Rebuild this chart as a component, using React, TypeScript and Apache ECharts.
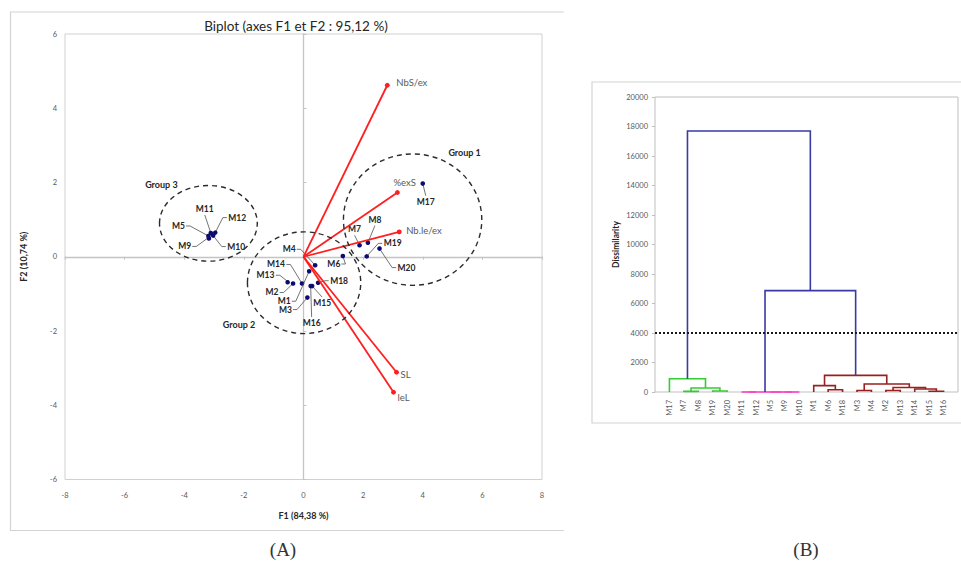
import React, { useEffect, useRef } from "react";
import * as echarts from "echarts";

// ---------------- Panel A : biplot data ----------------
const obsNames = ["M17", "M7", "M8", "M19", "M20", "M6", "M13", "M2", "M14", "M1", "M3", "M15", "M16", "M18", "M4", "M5", "M9", "M10", "M11", "M12"];
const obsF1 = [4.0, 1.88, 2.16, 2.12, 2.55, 1.32, -0.54, -0.35, -0.05, 0.19, 0.13, 0.29, 0.24, 0.49, 0.39, -3.19, -3.18, -3.03, -3.11, -2.96];
const obsF2 = [1.97, 0.31, 0.38, 0.01, 0.22, 0.02, -0.66, -0.72, -0.72, -0.39, -1.1, -0.79, -0.79, -0.7, -0.23, 0.56, 0.52, 0.57, 0.64, 0.65];

const varNames = ["NbS/ex", "%exS", "Nb.le/ex", "SL", "leL"];
const varF1 = [2.81, 3.15, 3.21, 3.12, 3.02];
const varF2 = [4.62, 1.73, 0.67, -3.11, -3.65];

const xTicksA = { min: -8, max: 8, step: 2 };
const yTicksA = { min: -6, max: 6, step: 2 };

// ---------------- Panel B : dendrogram data ----------------
const leafOrder = ["M17", "M7", "M8", "M19", "M20", "M11", "M12", "M5", "M9", "M10", "M1", "M6", "M18", "M3", "M4", "M2", "M13", "M14", "M15", "M16"];
// merges: [child A, child B, dissimilarity]; "#k" = result of merge k
const mergeA = ["M7", "M19", "#0", "M17", "M11", "M9", "M5", "#4", "M6", "M1", "M3", "M2", "M15", "M14", "#11", "#10", "#9", "#7", "#3"];
const mergeB = ["M8", "M20", "#1", "#2", "M12", "M10", "#5", "#6", "M18", "#8", "M4", "M13", "M16", "#12", "#13", "#14", "#15", "#16", "#17"];
const mergeH = [40, 70, 270, 900, 0, 0, 0, 0, 150, 430, 100, 100, 50, 200, 310, 540, 1125, 6870, 17700];
const cutHeight = 4000;

// ---------------- layout / style (not data) ----------------
const FONT = "Lato, 'Liberation Sans', sans-serif";
const obsLabelOffset: Record<string, [number, number]> = {
  M17: [3, 18], M7: [-5, -16], M8: [7, -23], M19: [26, -13], M20: [27, 19], M6: [-9, 8],
  M13: [-22, -6], M2: [-21, 9], M14: [-26, -19], M1: [-25, 30], M3: [-22, 12], M15: [10, 17],
  M16: [1, 37], M18: [21, -2], M4: [-26, -16], M5: [-30, -10], M9: [-24, 9], M10: [23, 11],
  M11: [-6, -24], M12: [22, -15],
};
const varLabelOffset: Record<string, [number, number]> = {
  "NbS/ex": [9, -3], "%exS": [-4, -10], "Nb.le/ex": [7, -1], SL: [4, 2], leL: [4, 5],
};
const groupRings = [
  { name: "Group 1", cx: 3.66, cy: 1.0, rx: 2.32, ry: 1.77, lab: [52, -67] },
  { name: "Group 2", cx: 0.02, cy: -0.7, rx: 1.9, ry: 1.37, lab: [-65, 42] },
  { name: "Group 3", cx: -3.19, cy: 0.9, rx: 1.64, ry: 1.02, lab: [-47, -39] },
];
const dendroPalette = ["#3a3aa6", "#33cc33", "#ff40c8", "#992020"];

function buildDendro() {
  const leafX: Record<string, number> = {};
  leafOrder.forEach((n, i) => (leafX[n] = i + 1));
  const nodes: { x: number; h: number }[] = [];
  const parent: number[] = mergeH.map(() => -1);
  const resolve = (r: string) => (r.startsWith("#") ? nodes[+r.slice(1)] : { x: leafX[r], h: 0 });
  const links = mergeH.map((h, k) => {
    const A = resolve(mergeA[k]);
    const B = resolve(mergeB[k]);
    [mergeA[k], mergeB[k]].forEach((r) => {
      if (r.startsWith("#")) parent[+r.slice(1)] = k;
    });
    nodes.push({ x: (A.x + B.x) / 2, h });
    return [A.x, B.x, h, A.h, B.h];
  });
  const rootOf = (k: number): number => {
    let c = k;
    while (parent[c] >= 0 && mergeH[parent[c]] < cutHeight) c = parent[c];
    return c;
  };
  const roots = mergeH
    .map((h, k) => k)
    .filter((k) => mergeH[k] < cutHeight && (parent[k] < 0 || mergeH[parent[k]] >= cutHeight))
    .sort((a, b) => nodes[a].x - nodes[b].x);
  return links.map((l, k) => {
    const ci = mergeH[k] >= cutHeight ? 0 : 1 + roots.indexOf(rootOf(k));
    return [...l, ci];
  });
}

function buildOption(): any {
  const obsData = obsNames.map((n, i) => [obsF1[i], obsF2[i]]);
  const varData = varNames.map((n, i) => [varF1[i], varF2[i]]);
  const ringData = groupRings.map((g) => [g.cx, g.cy, g.rx, g.ry]);
  const dendroData = buildDendro();

  const txt = (text: string, x: number, y: number, o: any) => ({
    type: "text",
    style: {
      text, x, y, fill: o.fill || "#262626", fontSize: o.size || 8, fontWeight: o.weight || "normal",
      fontFamily: o.family || FONT, align: o.align || "center", verticalAlign: "middle",
      textAlign: o.align || "center", textVerticalAlign: "middle",
    },
  });

  return {
    animation: false,
    backgroundColor: "#ffffff",
    title: {
      text: "Biplot (axes F1 et F2 : 95,12 %)",
      left: 291, top: 14, textAlign: "center",
      textStyle: { fontSize: 13.5, fontWeight: "normal", color: "#262626", fontFamily: FONT },
    },
    grid: [
      { left: 65, top: 34, width: 477, height: 445.5, show: true, borderColor: "#d0d0d0", borderWidth: 1 },
      { left: 655, top: 97, width: 303, height: 295, show: true, borderColor: "#bfbfbf", borderWidth: 1 },
    ],
    xAxis: [
      {
        gridIndex: 0, type: "value", min: xTicksA.min, max: xTicksA.max, interval: xTicksA.step, position: "bottom",
        axisLine: { show: false, onZero: false }, axisTick: { show: false }, splitLine: { show: false },
        axisLabel: { fontSize: 7.5, color: "#595959", margin: 12, fontFamily: FONT },
        name: "F1 (84,38 %)", nameLocation: "middle", nameGap: 31,
        nameTextStyle: { fontWeight: "bold", fontSize: 9, color: "#262626", fontFamily: FONT },
      },
      {
        gridIndex: 0, type: "value", min: xTicksA.min, max: xTicksA.max, interval: xTicksA.step, position: "bottom",
        axisLine: { show: true, onZero: true, lineStyle: { color: "#c4c4c4", width: 1.3 } },
        axisTick: { show: true, length: 3, lineStyle: { color: "#c4c4c4" } },
        axisLabel: { show: false }, splitLine: { show: false },
      },
      {
        gridIndex: 1, type: "value", min: 0, max: leafOrder.length + 1, interval: 1,
        axisLine: { show: false, onZero: false }, axisTick: { show: false }, splitLine: { show: false },
        axisLabel: {
          rotate: 90, fontSize: 7.5, color: "#595959", margin: 8, fontFamily: FONT,
          formatter: (v: number) => leafOrder[v - 1] ?? "",
        },
      },
    ],
    yAxis: [
      {
        gridIndex: 0, type: "value", min: yTicksA.min, max: yTicksA.max, interval: yTicksA.step,
        axisLine: { show: false, onZero: false }, axisTick: { show: false }, splitLine: { show: false },
        axisLabel: { fontSize: 7.5, color: "#595959", margin: 8, fontFamily: FONT },
        name: "F2 (10,74 %)", nameLocation: "middle", nameRotate: 90, nameGap: 37,
        nameTextStyle: { fontWeight: "bold", fontSize: 9, color: "#262626", fontFamily: FONT },
      },
      {
        gridIndex: 0, type: "value", min: yTicksA.min, max: yTicksA.max, interval: yTicksA.step,
        axisLine: { show: true, onZero: true, lineStyle: { color: "#c4c4c4", width: 1.3 } },
        axisTick: { show: true, length: 3, lineStyle: { color: "#c4c4c4" } },
        axisLabel: { show: false }, splitLine: { show: false },
      },
      {
        gridIndex: 1, type: "value", min: 0, max: 20000, interval: 2000,
        axisLine: { show: false, onZero: false },
        axisTick: { show: true, length: 3, lineStyle: { color: "#bfbfbf" } }, splitLine: { show: false },
        axisLabel: { fontSize: 7.5, color: "#595959", margin: 7, fontFamily: FONT, formatter: (v: number) => String(v) },
        name: "Dissimilarity", nameLocation: "middle", nameRotate: 90, nameGap: 35,
        nameTextStyle: { fontWeight: "bold", fontSize: 8.5, color: "#262626", fontFamily: FONT },
      },
    ],
    series: [
      {
        type: "custom", name: "observations", xAxisIndex: 0, yAxisIndex: 0, silent: true, z: 3,
        data: obsData,
        renderItem: (params: any, api: any) => {
          const i = params.dataIndex;
          const name = obsNames[i];
          const p = api.coord([api.value(0), api.value(1)]);
          const [dx, dy] = obsLabelOffset[name] || [0, -8];
          const lx = p[0] + dx, ly = p[1] + dy;
          const halfW = name.length * 2.8 + 1;
          const children: any[] = [];
          if (Math.hypot(dx, dy) > 10) {
            let pts: number[][];
            if (Math.abs(dx) > halfW + 2) {
              const ax = lx - Math.sign(dx) * (halfW + 1);
              pts = [[ax, ly], [ax - Math.sign(dx) * 4, ly], [p[0], p[1]]];
            } else {
              const ay = ly - Math.sign(dy) * 6;
              pts = [[lx, ay], [p[0], p[1]]];
            }
            children.push({ type: "polyline", shape: { points: pts }, style: { stroke: "#505050", lineWidth: 0.8, fill: "none" } });
          }
          children.push({ type: "circle", shape: { cx: p[0], cy: p[1], r: 2.3 }, style: { fill: "#0b0b72" } });
          children.push(txt(name, lx, ly, { size: 8.5, weight: "bold", fill: "#262626" }));
          return { type: "group", children };
        },
      },
      {
        type: "custom", name: "variables", xAxisIndex: 0, yAxisIndex: 0, silent: true, z: 4,
        data: varData,
        renderItem: (params: any, api: any) => {
          const i = params.dataIndex;
          const name = varNames[i];
          const o = api.coord([0, 0]);
          const p = api.coord([api.value(0), api.value(1)]);
          const [dx, dy] = varLabelOffset[name] || [5, 0];
          return {
            type: "group",
            children: [
              { type: "line", shape: { x1: o[0], y1: o[1], x2: p[0], y2: p[1] }, style: { stroke: "#ff1f1f", lineWidth: 1.8 } },
              { type: "circle", shape: { cx: p[0], cy: p[1], r: 2.4 }, style: { fill: "#ff1f1f" } },
              txt(name, p[0] + dx, p[1] + dy, { size: 9.5, fill: "#595959", align: "left" }),
            ],
          };
        },
      },
      {
        type: "custom", name: "groups", xAxisIndex: 0, yAxisIndex: 0, silent: true, z: 5,
        data: ringData,
        renderItem: (params: any, api: any) => {
          const g = groupRings[params.dataIndex];
          const c = api.coord([api.value(0), api.value(1)]);
          const s = api.size([api.value(2), api.value(3)]);
          return {
            type: "group",
            children: [
              {
                type: "ellipse", shape: { cx: c[0], cy: c[1], rx: s[0], ry: s[1] },
                style: { fill: "none", stroke: "#2b2b2b", lineWidth: 1.4, lineDash: [5, 4] },
              },
              txt(g.name, c[0] + g.lab[0], c[1] + g.lab[1], { size: 9, weight: "bold", fill: "#262626" }),
            ],
          };
        },
      },
      {
        type: "custom", name: "dendrogram", xAxisIndex: 2, yAxisIndex: 2, silent: true, z: 3,
        data: dendroData,
        renderItem: (params: any, api: any) => {
          const xl = api.value(0), xr = api.value(1), h = api.value(2), hl = api.value(3), hr = api.value(4), ci = api.value(5);
          const pts = [api.coord([xl, hl]), api.coord([xl, h]), api.coord([xr, h]), api.coord([xr, hr])];
          return { type: "polyline", shape: { points: pts }, style: { stroke: dendroPalette[ci], lineWidth: 1.6, fill: "none" } };
        },
      },
      {
        type: "line", name: "cut", xAxisIndex: 2, yAxisIndex: 2, silent: true, z: 4,
        data: [[0, cutHeight], [leafOrder.length + 1, cutHeight]],
        symbol: "none", lineStyle: { color: "#1a1a1a", width: 2, type: [2, 2] },
      },
    ],
    graphic: [
      {
        type: "polyline", silent: true,
        shape: { points: [[564, 12], [10.5, 12], [10.5, 530.5], [564, 530.5]] },
        style: { stroke: "#d4d4d4", lineWidth: 1.2, fill: "none" },
      },
      {
        type: "polyline", silent: true,
        shape: { points: [[961, 82], [592, 82], [592, 423], [961, 423]] },
        style: { stroke: "#d4d4d4", lineWidth: 1.2, fill: "none" },
      },
      {
        type: "text", silent: true, x: 283, y: 549,
        style: { text: "(A)", fontSize: 19, fontFamily: "'Liberation Serif', 'DejaVu Serif', serif", fill: "#333", textAlign: "center", textVerticalAlign: "middle", align: "center", verticalAlign: "middle" },
      },
      {
        type: "text", silent: true, x: 806, y: 549,
        style: { text: "(B)", fontSize: 19, fontFamily: "'Liberation Serif', 'DejaVu Serif', serif", fill: "#333", textAlign: "center", textVerticalAlign: "middle", align: "center", verticalAlign: "middle" },
      },
    ],
  };
}

export default function App() {
  const ref = useRef<HTMLDivElement>(null);
  useEffect(() => {
    const chart = echarts.init(ref.current!, null, { renderer: "svg" });
    chart.setOption(buildOption());
    return () => chart.dispose();
  }, []);
  return (
    <div
      ref={ref}
      style={{ position: "fixed", left: 0, top: 0, width: 961, height: 568, background: "#ffffff" }}
    />
  );
}
